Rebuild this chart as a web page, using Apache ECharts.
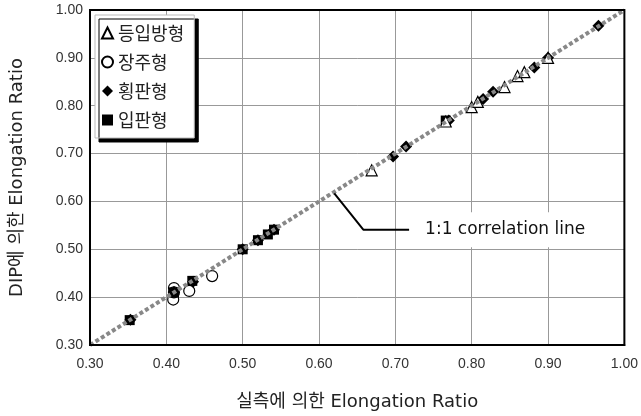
<!DOCTYPE html>
<html><head><meta charset="utf-8">
<script src="https://cdn.jsdelivr.net/npm/echarts@6/dist/echarts.min.js"></script>
<style>html,body{margin:0;padding:0;background:#fff}#c{width:641px;height:416px}</style>
</head><body><div id="c"></div>
<script>
const seriesNames = ['등입방형', '장주형', '횡판형', '입판형'];
const triX = [0.669, 0.766, 0.800, 0.808, 0.843, 0.860, 0.869, 0.900];
const triY = [0.665, 0.767, 0.797, 0.808, 0.839, 0.862, 0.870, 0.900];
const circX = [0.410, 0.410, 0.409, 0.430, 0.460];
const circY = [0.419, 0.410, 0.395, 0.413, 0.444];
const diaX = [0.353, 0.410, 0.435, 0.500, 0.520, 0.541, 0.697, 0.714, 0.770, 0.815, 0.828, 0.882, 0.900, 0.966];
const diaY = [0.353, 0.411, 0.432, 0.500, 0.519, 0.541, 0.694, 0.715, 0.769, 0.814, 0.829, 0.880, 0.900, 0.967];
const sqX = [0.352, 0.410, 0.434, 0.500, 0.520, 0.533, 0.541, 0.766];
const sqY = [0.352, 0.410, 0.434, 0.500, 0.519, 0.531, 0.541, 0.769];
const refLine = [[0.30, 0.30], [1.00, 1.00]];
const leaderLine = [[0.620, 0.617], [0.658, 0.541], [0.718, 0.541]];
const annotationText = '1:1 correlation line';
const xTitle = '실측에 의한 Elongation Ratio';
const yTitle = 'DIP에 의한 Elongation Ratio';
const axisMin = 0.30, axisMax = 1.00, axisStep = 0.10;

const zip = (a, b) => a.map((v, i) => [v, b[i]]);
const chart = echarts.init(document.getElementById('c'), null, {renderer: 'canvas'});
const tickFont = {color: '#333', fontSize: 14, fontFamily: 'Liberation Sans, Arial, sans-serif'};
const titleFont = {color: '#222', fontSize: 18, fontFamily: 'DejaVu Sans, Noto Sans CJK KR, sans-serif'};
chart.setOption({
  animation: false,
  backgroundColor: '#fff',
  grid: {left: 87, right: 13, top: 10, bottom: 67, show: true, borderColor: '#000', borderWidth: 2, backgroundColor: 'transparent', z: 10},
  xAxis: {type: 'value', min: axisMin, max: axisMax, interval: axisStep,
    name: xTitle, nameLocation: 'middle', nameGap: 48, nameTextStyle: titleFont,
    axisLine: {show: true, lineStyle: {color: '#000', width: 2}}, axisTick: {show: false},
    axisLabel: Object.assign({formatter: v => v.toFixed(2), margin: 12}, tickFont),
    splitLine: {show: true, lineStyle: {color: '#999', width: 1}}},
  yAxis: {type: 'value', min: axisMin, max: axisMax, interval: axisStep,
    name: yTitle, nameLocation: 'middle', nameGap: 64, nameTextStyle: titleFont,
    axisLine: {show: true, lineStyle: {color: '#000', width: 2}}, axisTick: {show: false},
    axisLabel: Object.assign({formatter: v => v.toFixed(2), margin: 7}, tickFont),
    splitLine: {show: true, lineStyle: {color: '#999', width: 1}}},
  legend: {orient: 'vertical', left: 95, top: 15,
    padding: [9, 10, 9, 6], itemGap: 11, itemWidth: 11, itemHeight: 11,
    backgroundColor: '#fff', borderColor: '#bbb', borderWidth: 1,
    shadowColor: '#000', shadowBlur: 0, shadowOffsetX: 4, shadowOffsetY: 4,
    textStyle: {fontSize: 18, color: '#222', fontFamily: 'Noto Sans CJK KR, sans-serif', padding: [0, 4, 0, 0]},
    data: seriesNames},
  series: [
    {name: 'ref', type: 'line', data: refLine, symbol: 'none', z: 5, silent: true,
      lineStyle: {color: '#888', width: 4, type: [4, 2.5]}},
    {name: seriesNames[3], type: 'scatter', data: zip(sqX, sqY), symbol: 'rect', symbolSize: 10, z: 3,
      itemStyle: {color: '#000', opacity: 1}},
    {name: seriesNames[2], type: 'scatter', data: zip(diaX, diaY), symbol: 'diamond', symbolSize: 12, z: 3,
      itemStyle: {color: '#000', opacity: 1}},
    {name: seriesNames[0], type: 'scatter', data: zip(triX, triY), symbol: 'triangle', symbolSize: 11, z: 4,
      itemStyle: {color: '#fff', borderColor: '#000', borderWidth: 1.2, opacity: 1}},
    {name: seriesNames[1], type: 'scatter', data: zip(circX, circY), symbol: 'circle', symbolSize: 11, z: 4,
      itemStyle: {color: 'rgba(255,255,255,0)', borderColor: '#000', borderWidth: 1.2, opacity: 1}},
    {name: 'leader', type: 'line', data: leaderLine, symbol: 'none', z: 6, silent: true,
      lineStyle: {color: '#000', width: 2},
      endLabel: {show: true, distance: 10, formatter: annotationText,
        backgroundColor: '#fff', padding: [9, 6], fontSize: 17, color: '#111',
        fontFamily: 'DejaVu Sans, sans-serif'}}
  ]
});
</script></body></html>
